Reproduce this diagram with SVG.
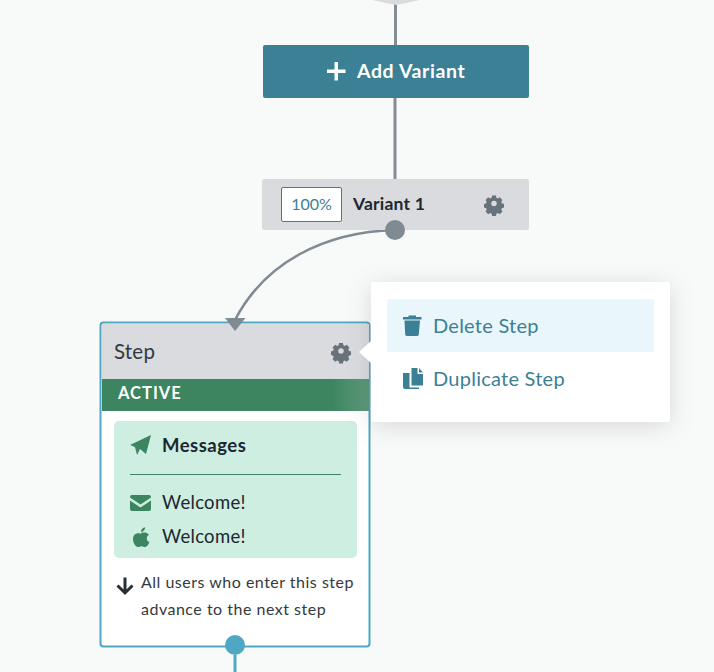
<svg xmlns="http://www.w3.org/2000/svg" width="714" height="672" viewBox="0 0 714 672">
<defs>
<style>
text{font-family:"Lato","Noto Sans","Liberation Sans",sans-serif}
.gear{fill:#68727a}
.teal{fill:#3b8095}
.grn{fill:#3c8560}
.item{font-size:20px;fill:#3b8095;letter-spacing:.25px}
.msg{font-size:18.5px;fill:#1c2630;letter-spacing:.3px}
.note{font-size:16px;fill:#33393f;letter-spacing:.5px}
</style>
<filter id="shadow" x="-20%" y="-30%" width="140%" height="160%"><feDropShadow dx="0" dy="4" stdDeviation="12" flood-color="#000" flood-opacity=".13"/></filter>
<linearGradient id="fade" x1="0" x2="1" y1="0" y2="0"><stop offset="0" stop-color="#3c8560"/><stop offset="1" stop-color="#5f9a7c"/></linearGradient>
<g id="gearIcon"><path transform="scale(.8)" d="M-2.400-10h4.800l.6 2.800 1.700.8 2.600-1.300 3.200 3.300-1.400 2.400.7 1.800 2.700.7v4.600l-2.700.7-.7 1.800 1.400 2.400-3.200 3.300-2.600-1.300-1.700.8-.6 2.800h-4.800l-.6-2.800-1.700-.8-2.600 1.300-3.200-3.300 1.400-2.400-.7-1.800-2.700-.7v-4.600l2.700-.7.7-1.800-1.400-2.400 3.200-3.300 2.600 1.300 1.700-.8zM0-3.400a3.400 3.400 0 1 0 0 6.800 3.400 3.400 0 1 0 0-6.800z" fill-rule="evenodd"/></g>
</defs>
<rect width="714" height="672" fill="#f8f9f9"/>
<g id="connectors" fill="none" stroke="#858d94" stroke-width="3">
<path d="M395.500 0V45M395 98V179"/>
<path d="M395 230C325 232 265 262 235 320" stroke="#808a92" stroke-width="2.500"/>
<path d="M235 655V672" stroke="#4fa8c3"/>
</g>
<g id="start"><path d="M372 0L396 5L420 0Z" fill="#d9dbde"/></g>
<g id="add-variant">
<rect x="263" y="45" width="266" height="53" rx="2" class="teal"/>
<path d="M327 69.500h7.500V62h3.500v7.500h7.500v3.500h-7.500v7.500h-3.500V73H327z" fill="#fff"/>
<text x="357" y="78" font-size="19.500" font-weight="700" fill="#fff" letter-spacing=".6">Add Variant</text>
</g>
<g id="variant-1">
<rect x="262" y="179" width="267" height="51" rx="2" fill="#d9dbde"/>
<rect x="281.500" y="187.500" width="60" height="34" rx="1.500" fill="#fff" stroke="#3b8095"/>
<text x="311.500" y="210" font-size="16" fill="#3b8095" text-anchor="middle">100%</text>
<text x="353" y="210" font-size="17.500" font-weight="700" fill="#1c2630" letter-spacing=".2">Variant 1</text>
<use href="#gearIcon" x="494" y="203.500" class="gear"/>
<circle cx="395" cy="230" r="10" fill="#808a92"/>
</g>
<g id="step">
<rect x="100.500" y="322.500" width="269" height="324" rx="3" fill="#fff" stroke="#4fa8c3" stroke-width="2"/>
<rect x="102" y="324" width="267" height="55" fill="#d9dbde"/>
<rect x="102" y="379" width="230" height="32" class="grn"/>
<rect x="332" y="379" width="37" height="32" fill="url(#fade)"/>
<text x="114" y="359" font-size="20.500" fill="#33393f" letter-spacing=".2">Step</text>
<use href="#gearIcon" x="341" y="351" class="gear"/>
<text x="118" y="399" font-size="16.500" font-weight="700" fill="#fff" letter-spacing="1">ACTIVE</text>
<rect x="114" y="421" width="243" height="137" rx="5" fill="#cdeee1"/>
<path d="M151 435L146 454L140 449L137 455L135 447L130 445Z" class="grn"/>
<text x="162" y="452" font-size="18.500" font-weight="700" fill="#1c2630" letter-spacing=".5">Messages</text>
<path d="M130 474.500H341" stroke="#3c8560" stroke-width="1" fill="none"/>
<path d="M132 495h17a2 2 0 0 1 2 2v.500l-10.500 7-10.500-7V497a2 2 0 0 1 2-2zM130 500.500l10.500 7 10.500-7V509a2 2 0 0 1-2 2h-17a2 2 0 0 1-2-2z" class="grn"/>
<text x="162" y="509" class="msg">Welcome!</text>
<path d="M141 533c2-.600 4-.600 5.500 0 1 .400 2 1 2.500 1.800-1.500 1-2.200 2-2.200 3.600 0 1.800 1 3 2.600 3.700-.8 2.600-2.500 4.900-4.300 4.900-1.300 0-2-.8-3.600-.8s-2.300.8-3.600.8c-2.300 0-4.900-4-4.900-8 0-3.500 2.300-5.800 4.900-5.800 1.300 0 2.700.6 3.600.8zM141 532c0-2.500 1.800-4.300 4.200-4.700 0 2.700-1.800 4.400-4.200 4.700z" class="grn"/>
<text x="162" y="543" class="msg">Welcome!</text>
<path d="M125 577.500V592M117.500 585.500L125 593L132.500 585.500" fill="none" stroke="#2a2f34" stroke-width="3"/>
<text x="141" y="588" class="note">All users who enter this step</text>
<text x="141" y="615" class="note">advance to the next step</text>
<circle cx="235" cy="645" r="10" fill="#4fa8c3"/>
<path d="M225 318H245.500L235 331Z" fill="#808a92"/>
</g>
<g id="step-menu">
<rect x="371" y="282" width="299" height="140" rx="2" fill="#fff" filter="url(#shadow)"/>
<path d="M359 352L371 341V363Z" fill="#fff"/>
<rect x="387" y="299" width="267" height="53" rx="2.500" fill="#e9f6fb"/>
<path d="M403 317h18.500v2.500H403zM408.500 317v-1.500h7.500v1.500zM404.500 320.500h15.500l-1.200 14a1.500 1.500 0 0 1-1.500 1.400h-10.600a1.500 1.500 0 0 1-1.500-1.400z" class="teal"/>
<text x="433" y="332.500" class="item">Delete Step</text>
<path d="M411.500 368h6v6h5.500v11.500h-11.500zM419 368l4 4.500h-4zM403 373h6.500v14.500H419v1.500h-14a2 2 0 0 1-2-2z" class="teal"/>
<text x="433" y="386" class="item">Duplicate Step</text>
</g>
</svg>
